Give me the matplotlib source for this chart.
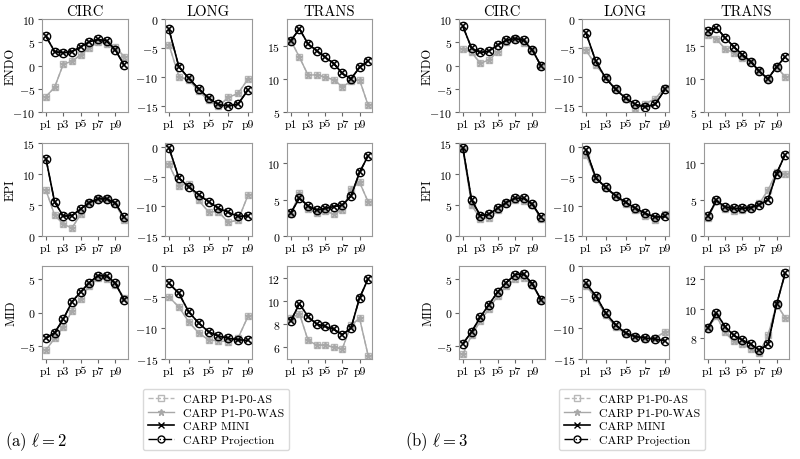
import numpy as np
import matplotlib
matplotlib.use('Agg')
import matplotlib.pyplot as plt
from matplotlib.lines import Line2D

plt.rcParams['font.family'] = 'serif'
plt.rcParams['font.serif'] = ['cmr10', 'DejaVu Serif']
plt.rcParams['mathtext.fontset'] = 'cm'
plt.rcParams['axes.formatter.use_mathtext'] = True

# Data: p1-p0 (gray, AS and WAS overlap) and mini (black, MINI and Projection overlap)
rows = ['ENDO', 'EPI', 'MID']
cols = ['CIRC', 'LONG', 'TRANS']
tick_labels = ['p1', 'p3', 'p5', 'p7', 'p9']

# panel (a), l = 2
a_endo_circ_p1p0 = [-6.7, -4.7, 0.3, 0.9, 2.3, 3.7, 5.1, 4.7, 4.0, 1.9]
a_endo_circ_mini = [6.3, 3.0, 2.7, 3.0, 4.0, 5.1, 5.6, 5.3, 3.3, 0.1]
a_endo_long_p1p0 = [-4.4, -9.9, -10.5, -12.4, -14.0, -15.0, -13.5, -12.8, -10.3]
a_endo_long_mini = [-1.8, -8.2, -10.2, -12.0, -13.6, -14.7, -15.0, -14.6, -12.2]
a_endo_trans_p1p0 = [15.75, 13.25, 10.55, 10.6, 10.25, 9.85, 8.8, 9.6, 9.85, 6.0]
a_endo_trans_mini = [15.75, 17.5, 15.25, 14.25, 13.25, 12.3, 10.8, 10.0, 11.7, 12.7]

a_epi_circ_p1p0 = [7.4, 3.4, 1.9, 1.3, 3.5, 5.3, 5.9, 5.9, 5.2, 2.6]
a_epi_circ_mini = [12.5, 5.5, 3.2, 3.3, 4.35, 5.4, 6.0, 6.0, 5.3, 3.0]
a_epi_long_p1p0 = [-2.9, -6.5, -6.2, -9.0, -10.9, -10.9, -12.7, -12.3, -8.1]
a_epi_long_mini = [-0.1, -5.2, -6.7, -8.0, -9.2, -10.3, -11.0, -11.7, -11.6]
a_epi_trans_p1p0 = [3.0, 5.85, 3.7, 3.2, 3.45, 3.0, 3.6, 6.45, 7.4, 4.7]
a_epi_trans_mini = [3.2, 5.2, 4.15, 3.55, 3.8, 4.05, 4.25, 5.5, 8.75, 11.05]

a_mid_circ_p1p0 = [-5.7, -3.85, -2.2, 0.25, 2.1, 4.0, 5.2, 5.0, 4.2, 2.2]
a_mid_circ_mini = [-3.9, -3.05, -1.0, 1.6, 3.1, 4.5, 5.55, 5.5, 4.4, 1.9]
a_mid_long_p1p0 = [-5.0, -6.6, -9.0, -10.8, -11.9, -12.1, -12.2, -11.6, -8.1]
a_mid_long_mini = [-2.8, -4.4, -7.4, -9.2, -10.6, -11.3, -11.65, -11.9, -12.0]
a_mid_trans_p1p0 = [8.5, 8.9, 6.6, 6.2, 6.2, 6.0, 5.9, 7.9, 8.5, 5.3]
a_mid_trans_mini = [8.3, 9.75, 8.65, 8.0, 7.8, 7.55, 7.1, 7.65, 10.25, 11.9]

# panel (b), l = 3
b_endo_circ_p1p0 = [3.5, 2.8, 0.5, 1.2, 3.0, 5.1, 5.6, 4.9, 3.3, -0.2]
b_endo_circ_mini = [8.4, 3.7, 2.8, 3.1, 4.4, 5.4, 5.8, 5.4, 3.3, -0.1]
b_endo_long_p1p0 = [-5.4, -7.9, -10.0, -12.1, -13.7, -15.3, -14.6, -13.7, -11.8]
b_endo_long_mini = [-2.4, -7.3, -10.2, -12.1, -13.6, -14.7, -15.1, -14.7, -12.1]
b_endo_trans_p1p0 = [16.6, 16.0, 14.5, 13.9, 13.2, 12.5, 11.1, 10.0, 11.8, 10.3]
b_endo_trans_mini = [17.2, 17.7, 16.2, 14.85, 13.65, 12.6, 11.1, 10.0, 11.8, 13.3]

b_epi_circ_p1p0 = [14.0, 5.0, 2.8, 2.9, 4.2, 5.3, 5.8, 5.7, 5.0, 2.8]
b_epi_circ_mini = [14.2, 5.8, 3.3, 3.5, 4.5, 5.4, 6.1, 6.1, 5.1, 3.0]
b_epi_long_p1p0 = [-1.3, -5.2, -6.9, -8.3, -9.6, -10.6, -11.6, -12.3, -11.3]
b_epi_long_mini = [-0.4, -5.2, -6.8, -8.2, -9.3, -10.3, -11.2, -11.8, -11.7]
b_epi_trans_p1p0 = [2.5, 4.8, 3.7, 3.5, 3.6, 3.8, 4.5, 6.3, 8.8, 8.6]
b_epi_trans_mini = [2.7, 4.9, 4.0, 3.8, 3.8, 3.9, 4.3, 5.0, 8.6, 11.2]

b_mid_circ_p1p0 = [-6.3, -3.4, -1.3, 0.6, 2.5, 4.0, 5.0, 5.2, 4.1, 1.9]
b_mid_circ_mini = [-4.7, -2.9, -0.7, 1.2, 3.1, 4.5, 5.7, 5.8, 4.3, 1.9]
b_mid_long_p1p0 = [-3.2, -5.2, -7.9, -9.8, -11.0, -11.5, -11.8, -11.6, -10.6]
b_mid_long_mini = [-2.8, -4.8, -7.6, -9.5, -10.8, -11.4, -11.6, -11.8, -12.1]
b_mid_trans_p1p0 = [8.7, 9.5, 8.4, 7.8, 7.6, 7.3, 7.0, 8.2, 10.3, 9.4]
b_mid_trans_mini = [8.7, 9.7, 8.8, 8.2, 7.9, 7.6, 7.2, 7.6, 10.3, 12.4]

panel_a = [[(a_endo_circ_p1p0, a_endo_circ_mini), (a_endo_long_p1p0, a_endo_long_mini), (a_endo_trans_p1p0, a_endo_trans_mini)],
           [(a_epi_circ_p1p0, a_epi_circ_mini), (a_epi_long_p1p0, a_epi_long_mini), (a_epi_trans_p1p0, a_epi_trans_mini)],
           [(a_mid_circ_p1p0, a_mid_circ_mini), (a_mid_long_p1p0, a_mid_long_mini), (a_mid_trans_p1p0, a_mid_trans_mini)]]
panel_b = [[(b_endo_circ_p1p0, b_endo_circ_mini), (b_endo_long_p1p0, b_endo_long_mini), (b_endo_trans_p1p0, b_endo_trans_mini)],
           [(b_epi_circ_p1p0, b_epi_circ_mini), (b_epi_long_p1p0, b_epi_long_mini), (b_epi_trans_p1p0, b_epi_trans_mini)],
           [(b_mid_circ_p1p0, b_mid_circ_mini), (b_mid_long_p1p0, b_mid_long_mini), (b_mid_trans_p1p0, b_mid_trans_mini)]]

ylims_a = [[(-10, 10), (-16, 0), (5, 19)],
           [(0, 15), (-15, 0.7), (0, 12.8)],
           [(-7, 7), (-15, 0), (5, 13)]]
ylims_b = [[(-10, 10), (-16, 0), (5, 19)],
           [(0, 15), (-15, 0.7), (0, 12.8)],
           [(-7, 7), (-15, 0), (6.6, 12.9)]]
yticks_a = [[[-10, -5, 0, 5, 10], [-15, -10, -5, 0], [5, 10, 15]],
            [[0, 5, 10, 15], [-15, -10, -5, 0], [0, 5, 10]],
            [[-5, 0, 5], [-15, -10, -5, 0], [6, 8, 10, 12]]]
yticks_b = [[[-10, -5, 0, 5, 10], [-15, -10, -5, 0], [5, 10, 15]],
            [[0, 5, 10, 15], [-15, -10, -5, 0], [0, 5, 10]],
            [[-5, 0, 5], [-15, -10, -5, 0], [8, 10, 12]]]

labels = ['CARP P1-P0-AS', 'CARP P1-P0-WAS', 'CARP MINI', 'CARP Projection']
gray1 = '#b8b8b8'
gray2 = '#a8a8a8'

W, H = 800, 460
fig = plt.figure(figsize=(8, 4.6), dpi=100)

col_px_a = [(42, 128), (165, 252), (287, 372)]
col_px_b = [(459, 545), (582, 669), (704, 789)]
row_px = [(20, 113), (144, 237), (267, 360)]


def draw_panel(panel, ylims, yticks, col_px, letter, ell, legend_x, caption_x):
    for i in range(3):
        for j in range(3):
            x0, x1 = col_px[j]
            y0, y1 = row_px[i]
            ax = fig.add_axes([x0 / W, 1 - y1 / H, (x1 - x0) / W, (y1 - y0) / H])
            p1p0, mini = panel[i][j]
            x = np.arange(1, len(p1p0) + 1)
            ax.plot(x, p1p0, color=gray1, ls='--', lw=1, marker='s', ms=5,
                    mfc='none', mec=gray1, mew=1)
            ax.plot(x, p1p0, color=gray2, ls='-', lw=1, marker='*', ms=5,
                    mfc=gray2, mec=gray2)
            ax.plot(x, mini, color='black', ls='-', lw=1.2, marker='x', ms=5, mew=1.2)
            ax.plot(x, mini, color='black', ls='-.', lw=1, marker='o', ms=6,
                    mfc='none', mew=1)
            ax.set_ylim(ylims[i][j])
            ax.set_yticks(yticks[i][j])
            ax.set_xticks([1, 3, 5, 7, 9])
            ax.set_xticklabels(tick_labels)
            ax.tick_params(labelsize=8.5, length=3, color='0.4', pad=2)
            for s in ax.spines.values():
                s.set_color('0.6')
            if i == 0:
                ax.set_title(cols[j], fontsize=10.5, pad=3)
            if j == 0:
                ax.set_ylabel(rows[i], fontsize=9)
                ax.yaxis.set_label_coords(-0.29, 0.5)
    handles = [Line2D([], [], color=gray1, ls='--', lw=1, marker='s', ms=5, mfc='none', mec=gray1),
               Line2D([], [], color=gray2, ls='-', lw=1, marker='*', ms=5),
               Line2D([], [], color='black', ls='-', lw=1.2, marker='x', ms=5),
               Line2D([], [], color='black', ls='-.', lw=1, marker='o', ms=5, mfc='none')]
    fig.legend(handles, labels, loc='upper left', bbox_to_anchor=(legend_x / W, 1 - 384 / H),
               fontsize=8.5, frameon=True, fancybox=True, framealpha=1, edgecolor='0.85',
               handlelength=2.2, labelspacing=0.3, borderpad=0.4, handletextpad=0.8)
    fig.text(caption_x / W, 1 - 442 / H,
             '(' + letter + r') $\ell = ' + str(ell) + '$', fontsize=12, va='center')


draw_panel(panel_a, ylims_a, yticks_a, col_px_a, 'a', 2, 137, 5)
draw_panel(panel_b, ylims_b, yticks_b, col_px_b, 'b', 3, 553, 405)

fig.savefig('out.png', dpi=100)
